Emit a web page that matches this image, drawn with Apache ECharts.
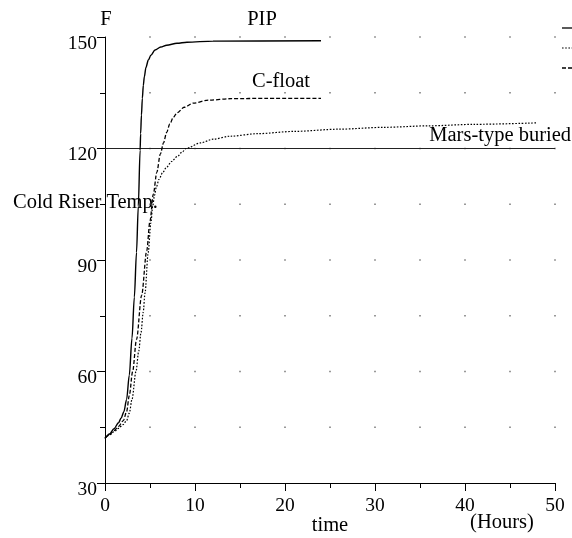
<!DOCTYPE html>
<html>
<head>
<meta charset="utf-8">
<script src="https://cdn.jsdelivr.net/npm/echarts@6/dist/echarts.min.js"></script>
<style>
html,body{margin:0;padding:0;background:#fff;}
#chart{width:572px;height:538px;}
</style>
</head>
<body>
<div id="chart"></div>
<script>
// ---- data (hours, °F) ----
const pipT = [0, 0.5, 1, 1.5, 1.8, 2.1, 2.4, 2.7, 3.0, 3.26, 3.5, 3.7, 3.9, 3.96, 4.05, 4.15, 4.26, 4.37, 4.55, 4.81, 5.1, 5.56, 6.2, 6.85, 8, 9.1, 12, 24];
const pipV = [42, 43.2, 44.6, 46.2, 47.5, 49.2, 52.5, 59, 69, 80, 92, 104.5, 119.5, 124, 129, 133.5, 137, 139.3, 141.8, 143.8, 145.1, 146.5, 147.3, 147.8, 148.3, 148.6, 148.9, 149];

const cfT = [0, 0.5, 1, 1.5, 2.04, 2.4, 2.7, 3.07, 3.5, 4.07, 4.63, 5.0, 5.37, 5.75, 6.15, 6.5, 6.85, 7.2, 7.6, 8.0, 8.8, 9.8, 11.5, 14, 18, 24];
const cfV = [42, 43, 44.1, 45.2, 46.8, 49.2, 53.5, 60, 68.6, 80.5, 92.4, 100.5, 107.7, 113.5, 118.5, 121.5, 124.3, 126.6, 128.4, 129.6, 131.1, 132.2, 133, 133.4, 133.5, 133.5];

const mtT = [0, 0.5, 1, 1.5, 2.0, 2.4, 2.7, 3.0, 3.44, 3.75, 4.0, 4.25, 4.44, 4.8, 5.1, 5.3, 5.5, 5.7, 6.0, 6.4, 6.85, 7.4, 8.0, 8.6, 9.0, 10.6, 12, 13.9, 17, 21, 26, 31, 36, 41, 48];
const mtV = [42, 42.9, 43.8, 44.7, 45.7, 46.8, 48.8, 52.5, 60, 65.5, 70.5, 76, 81, 92, 100, 104.5, 107.4, 109.6, 111.7, 113.5, 115, 116.5, 117.8, 119.1, 120, 121.5, 122.5, 123.3, 124, 124.6, 125.2, 125.7, 126.1, 126.5, 126.9];

const targetT = [0, 50];
const targetV = [120, 120];

const xTicks = [0, 10, 20, 30, 40, 50];
const yTicks = [30, 60, 90, 120, 150];
const gridX = [5, 10, 15, 20, 25, 30, 35, 40, 45, 50];
const gridY = [45, 60, 75, 90, 105, 120, 135, 150];

const seriesNames = ['PIP', 'C-float', 'Mars-type buried'];

// ---- build ----
const zip = (a, b) => a.map((v, i) => [v, b[i]]);
const dots = [];
gridX.forEach(x => gridY.forEach(y => dots.push([x, y])));

const FONT = "'Liberation Serif','Times New Roman',serif";
const TXT = '20.5px ' + FONT;

const chart = echarts.init(document.getElementById('chart'), null, {renderer: 'canvas'});
chart.setOption({
  animation: false,
  backgroundColor: '#fff',
  grid: {left: 105, top: 37, width: 450, height: 446, containLabel: false},
  xAxis: {
    type: 'value', min: xTicks[0], max: xTicks[xTicks.length - 1], interval: 10,
    axisLine: {show: true, onZero: false, lineStyle: {color: '#000', width: 1}},
    axisTick: {show: true, length: 8, inside: false, lineStyle: {color: '#000'}},
    minorTick: {show: true, splitNumber: 2, length: 5, lineStyle: {color: '#000'}},
    splitLine: {show: false},
    axisLabel: {color: '#000', fontSize: 19.5, fontFamily: FONT, margin: 13}
  },
  yAxis: {
    type: 'value', min: yTicks[0], max: yTicks[yTicks.length - 1], interval: 30,
    axisLine: {show: true, onZero: false, lineStyle: {color: '#000', width: 1}},
    axisTick: {show: true, length: 8, inside: false, lineStyle: {color: '#000'}},
    minorTick: {show: true, splitNumber: 2, length: 5, lineStyle: {color: '#000'}},
    splitLine: {show: false},
    axisLabel: {color: '#000', fontSize: 19.5, fontFamily: FONT, margin: 8, verticalAlign: 'top', lineHeight: 13}
  },
  series: [
    {
      type: 'scatter', data: dots, symbol: 'rect', symbolSize: 1.5, silent: true,
      itemStyle: {color: '#555'}, z: 1
    },
    {
      name: 'target', type: 'line', data: zip(targetT, targetV), showSymbol: false,
      lineStyle: {color: '#222', width: 1.2, type: 'solid'}, z: 2
    },
    {
      name: seriesNames[0], type: 'line', data: zip(pipT, pipV), showSymbol: false,
      smooth: 0.3, smoothMonotone: 'x',
      lineStyle: {color: '#000', width: 1.4, type: 'solid'}, z: 3
    },
    {
      name: seriesNames[1], type: 'line', data: zip(cfT, cfV), showSymbol: false,
      smooth: 0.3, smoothMonotone: 'x',
      lineStyle: {color: '#000', width: 1.3, type: [4, 2]}, z: 3
    },
    {
      name: seriesNames[2], type: 'line', data: zip(mtT, mtV), showSymbol: false,
      smooth: 0.3, smoothMonotone: 'x',
      lineStyle: {color: '#000', width: 1.2, type: [1.6, 1.6]}, z: 3
    }
  ],
  graphic: [
    {type: 'text', x: 106, y: 20, style: {text: 'F', font: TXT, fill: '#000', textAlign: 'center', textVerticalAlign: 'middle'}},
    {type: 'text', x: 262, y: 20, style: {text: seriesNames[0], font: TXT, fill: '#000', textAlign: 'center', textVerticalAlign: 'middle'}},
    {type: 'text', x: 281, y: 82, style: {text: seriesNames[1], font: TXT, fill: '#000', textAlign: 'center', textVerticalAlign: 'middle'}},
    {type: 'text', x: 571, y: 136, style: {text: seriesNames[2], font: TXT, fill: '#000', textAlign: 'right', textVerticalAlign: 'middle'}},
    {type: 'text', x: 13, y: 203, style: {text: 'Cold Riser Temp.', font: TXT, fill: '#000', textAlign: 'left', textVerticalAlign: 'middle'}},
    {type: 'text', x: 330, y: 526, style: {text: 'time', font: TXT, fill: '#000', textAlign: 'center', textVerticalAlign: 'middle'}},
    {type: 'text', x: 502, y: 523, style: {text: '(Hours)', font: TXT, fill: '#000', textAlign: 'center', textVerticalAlign: 'middle'}},
    {type: 'line', shape: {x1: 562, y1: 28, x2: 572, y2: 28}, style: {stroke: '#000', lineWidth: 1.3}},
    {type: 'line', shape: {x1: 562, y1: 48, x2: 572, y2: 48}, style: {stroke: '#000', lineWidth: 1.2, lineDash: [1.6, 1.6]}},
    {type: 'line', shape: {x1: 562, y1: 68, x2: 572, y2: 68}, style: {stroke: '#000', lineWidth: 1.3, lineDash: [4, 2]}}
  ]
});
</script>
</body>
</html>
